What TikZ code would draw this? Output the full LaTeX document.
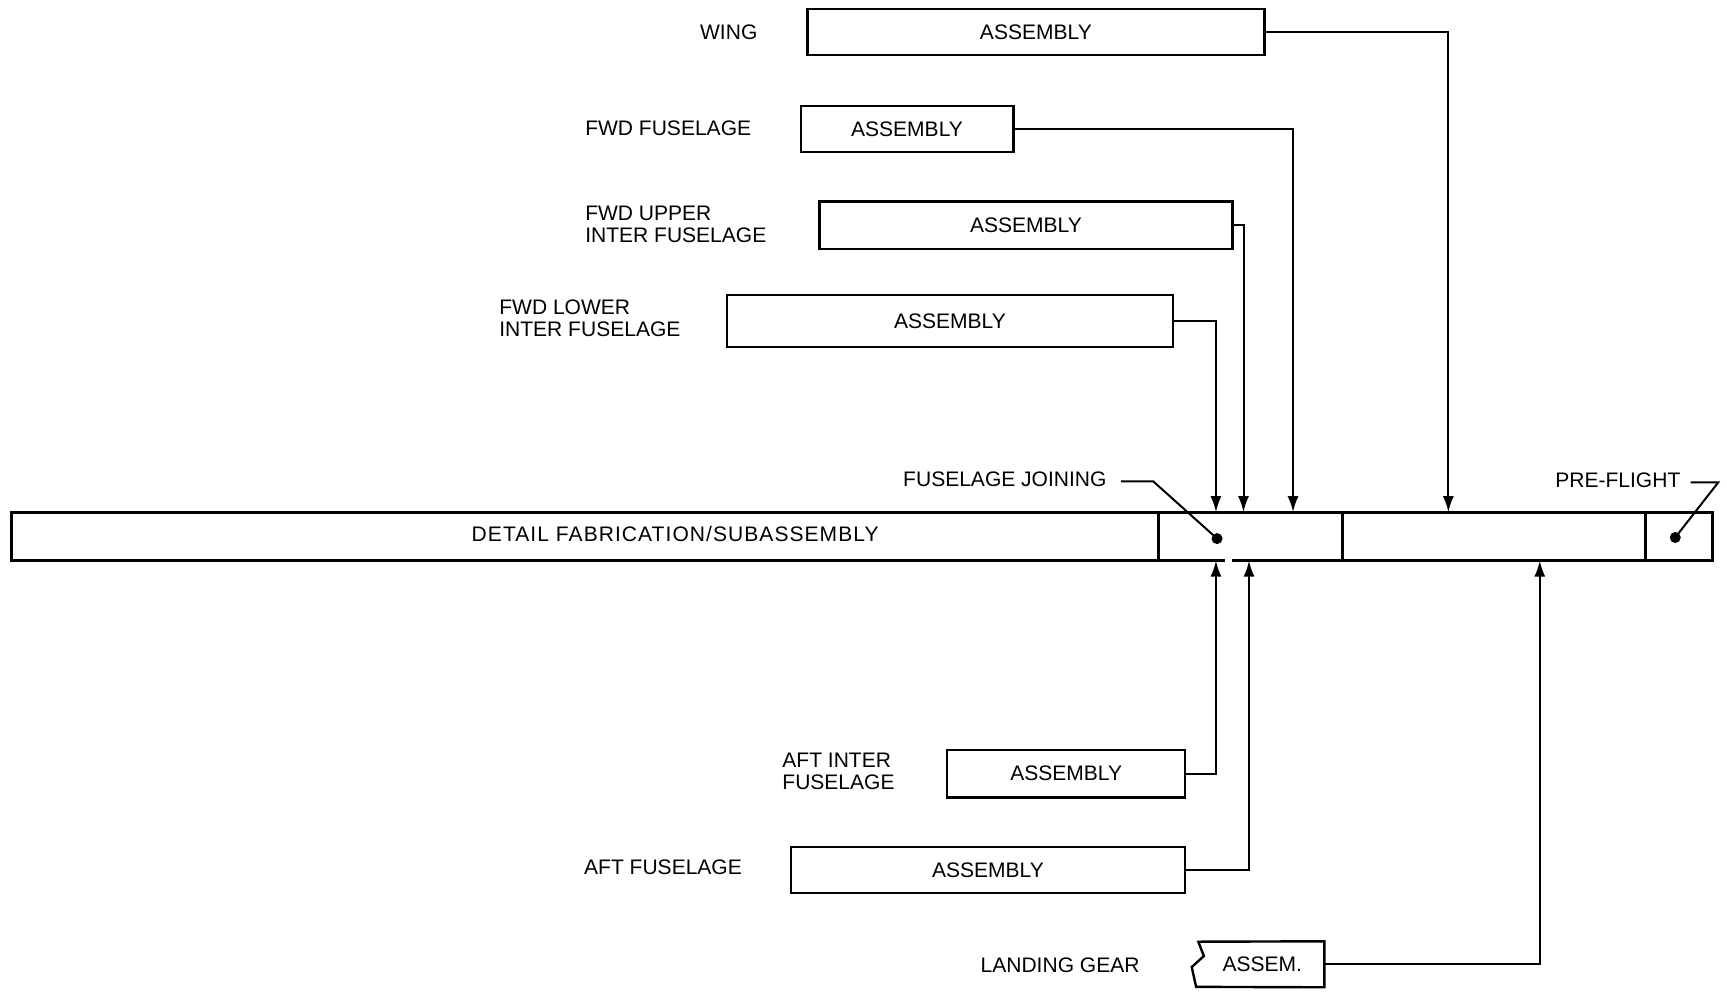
\documentclass[tikz,border=0pt]{standalone}
\usepackage{fontspec}
\setmainfont{Liberation Sans}
\usetikzlibrary{arrows.meta,fit}

\tikzset{
  box/.style={draw=black, line width=1.2pt, inner sep=0pt, label={[tag]center:#1}},
  barpart/.style={draw=black, line width=1.5pt, inner sep=0pt},
  tag/.style={inner sep=0pt, align=left, font=\fontsize{10.5}{11}\selectfont},
  feed/.style={line width=1pt, -{Latex[length=8pt,width=5.5pt]}},
  leader/.style={line width=1pt},
  blob/.style={circle, fill=black, minimum size=5.5pt, inner sep=0pt},
}

\begin{document}
\begin{tikzpicture}[x=0.55pt, y=-0.55pt]
\useasboundingbox (0,0) rectangle (1568,901);

% main bar
\node[barpart, fit={(10,465) (1052,509)}](detail) {};
\node[barpart, fit={(1052,465) (1219,509)}](joining) {};
\node[barpart, fit={(1219,465) (1494,509)}](flight) {};
\node[barpart, fit={(1494,465) (1555,509)}](preflight) {};
\fill[white] (1112,505) rectangle (1119,513);
\node[tag, font=\fontsize{10.5}{11}\selectfont\addfontfeature{LetterSpace=5}](detailText) at (613,485) {DETAIL FABRICATION/SUBASSEMBLY};

% assemblies above
\node[tag, anchor=east](wingTag) at (688,29) {WING};
\node[box=ASSEMBLY, fit={(733,8) (1148,50)}](wingBox) {};

\node[tag, anchor=west](fwdTag) at (531,116) {FWD FUSELAGE};
\node[box=ASSEMBLY, fit={(727,96) (920,138)}](fwdBox) {};

\node[tag, anchor=west](upperTag) at (531,204) {FWD UPPER\\INTER FUSELAGE};
\node[box=ASSEMBLY, fit={(744,183) (1119,226)}](upperBox) {};

\node[tag, anchor=west](lowerTag) at (453,289) {FWD LOWER\\INTER FUSELAGE};
\node[box=ASSEMBLY, fit={(660,268) (1065,315)}](lowerBox) {};

% assemblies below
\node[tag, anchor=west](aftInterTag) at (710,700) {AFT INTER\\FUSELAGE};
\node[box=ASSEMBLY, fit={(860,681) (1076,724)}](aftInterBox) {};

\node[tag, anchor=west](aftTag) at (530,787) {AFT FUSELAGE};
\node[box=ASSEMBLY, fit={(718,769) (1076,811)}](aftBox) {};

\node[tag, anchor=west](gearTag) at (890,876) {LANDING GEAR};
\node[inner sep=0pt, fit={(1090,855) (1202,896)}, label={[tag]center:ASSEM.}](gearBox) {};
\draw[line width=1.2pt] (1088,855) -- (gearBox.north east) -- (gearBox.south east) -- (1086,896) -- (1082,878) -- (1093,868) -- cycle;

% entry points on the bar
\coordinate (wingIn) at (1315,465);
\coordinate (fwdIn) at (1174,465);
\coordinate (upperIn) at (1129,465);
\coordinate (lowerIn) at (1104,465);
\coordinate (aftInterIn) at (1104,509);
\coordinate (aftIn) at (1134,509);
\coordinate (gearIn) at (1398,509);

\draw[feed] (wingBox.east) -| (wingIn);
\draw[feed] (fwdBox.east) -| (fwdIn);
\draw[feed] (upperBox.east) -| (upperIn);
\draw[feed] (lowerBox.east) -| (lowerIn);
\draw[feed] (aftInterBox.east) -| (aftInterIn);
\draw[feed] (aftBox.east) -| (aftIn);
\draw[feed] (gearBox.east) -| (gearIn);

% callouts
\node[tag, anchor=east](joinTag) at (1005,435) {FUSELAGE JOINING};
\node[blob](joinDot) at (1105,489) {};
\coordinate (joinStart) at (1018,437);
\coordinate (joinBend) at (1047,437);
\draw[leader] (joinStart) -- (joinBend) -- (joinDot.center);

\node[tag, anchor=east](preTag) at (1526,436) {PRE-FLIGHT};
\node[blob](preDot) at (1521,488) {};
\coordinate (preStart) at (1535,438);
\coordinate (preBend) at (1560,438);
\draw[leader] (preStart) -- (preBend) -- (preDot.center);

\end{tikzpicture}
\end{document}
